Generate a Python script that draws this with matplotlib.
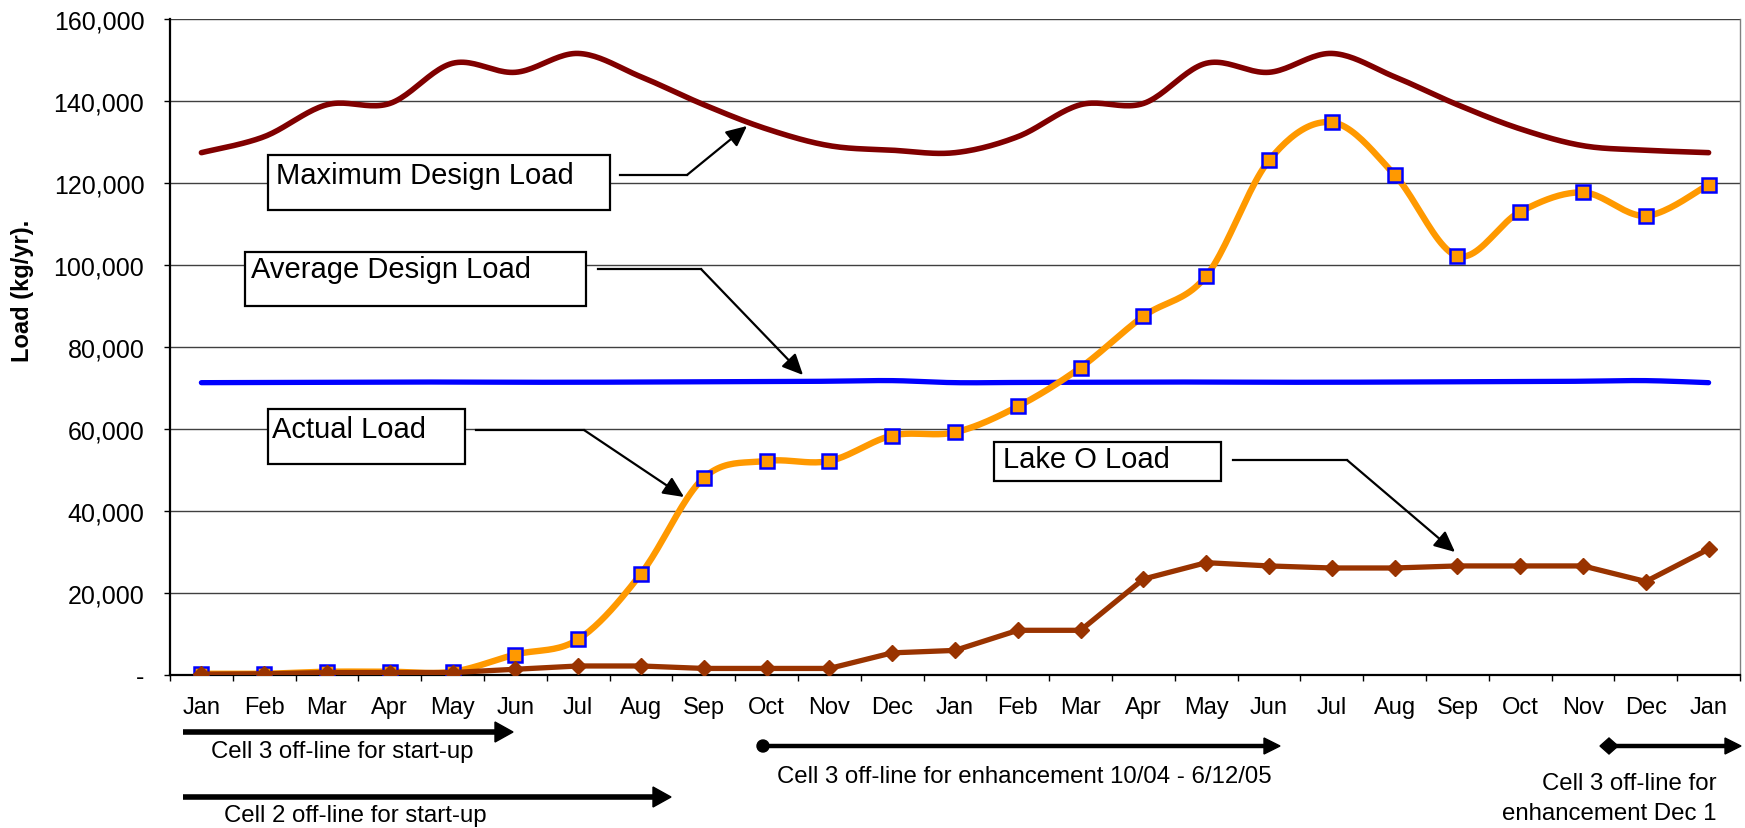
import numpy as np
import matplotlib
matplotlib.use("Agg")
import matplotlib.pyplot as plt
from matplotlib.patches import Rectangle, Polygon, Circle

plt.rcParams['font.family'] = ['Liberation Sans', 'DejaVu Sans']

# ---------------- data ----------------
months = ["Jan", "Feb", "Mar", "Apr", "May", "Jun", "Jul", "Aug", "Sep", "Oct", "Nov", "Dec",
          "Jan", "Feb", "Mar", "Apr", "May", "Jun", "Jul", "Aug", "Sep", "Oct", "Nov", "Dec", "Jan"]

max_design = [127400, 131300, 139100, 139400, 149200, 147000, 151600, 145900, 139100, 133200,
              129100, 128000, 127400, 131300, 139100, 139400, 149200, 147000, 151600, 145900,
              139100, 133200, 129100, 128000, 127400]

avg_design = [71300, 71350, 71400, 71450, 71450, 71400, 71400, 71450, 71500, 71550, 71650, 71800,
              71300, 71350, 71400, 71450, 71450, 71400, 71400, 71450, 71500, 71550, 71650, 71800, 71300]

actual_load = [300, 300, 800, 800, 800, 5000, 8700, 24700, 48100, 52200, 52200, 58400,
               59200, 65500, 75000, 87500, 97300, 125500, 134800, 122000, 102200, 113000,
               117700, 112000, 119600]

lake_o_load = [200, 300, 600, 600, 600, 1400, 2200, 2200, 1600, 1600, 1600, 5400,
               6000, 10900, 10900, 23400, 27400, 26600, 26100, 26100, 26600, 26600, 26600,
               22800, 30700]

y_ticks = [0, 20000, 40000, 60000, 80000, 100000, 120000, 140000, 160000]
y_tick_labels = ["-", "20,000", "40,000", "60,000", "80,000", "100,000", "120,000", "140,000", "160,000"]


def smooth(xs, ys, n=24):
    """Excel-style smoothed line (Catmull-Rom Bezier) for drawing."""
    p = np.column_stack([xs, ys]).astype(float)
    out = []
    m = len(p)
    for i in range(m - 1):
        p0 = p[i - 1] if i > 0 else p[i]
        p1 = p[i]
        p2 = p[i + 1]
        p3 = p[i + 2] if i + 2 < m else p[i + 1]
        c1 = p1 + (p2 - p0) / 6.0
        c2 = p2 - (p3 - p1) / 6.0
        t = np.linspace(0, 1, n)[:, None]
        seg = ((1 - t) ** 3) * p1 + 3 * ((1 - t) ** 2) * t * c1 + 3 * (1 - t) * t ** 2 * c2 + t ** 3 * p2
        out.append(seg if i == 0 else seg[1:])
    s = np.vstack(out)
    return s[:, 0], s[:, 1]


W, H = 1745, 829
fig = plt.figure(figsize=(W / 100, H / 100), dpi=100)
ax = fig.add_axes([170 / W, (H - 676) / H, (1740 - 170) / W, (676 - 20) / H])

x = np.arange(len(months))

sx, sy = smooth(x, max_design)
ax.plot(sx, sy, color="#800000", lw=4.0, solid_capstyle="round", zorder=3)
sx, sy = smooth(x, avg_design)
ax.plot(sx, sy, color="#0000FF", lw=3.8, solid_capstyle="round", zorder=3)
sx, sy = smooth(x, actual_load)
ax.plot(sx, sy, color="#FF9900", lw=4.6, solid_capstyle="round", zorder=4)
ax.plot(x, actual_load, ls="none", marker="s", ms=10.5, mfc="#FF9900", mec="#0000FF", mew=1.8, zorder=5)
ax.plot(x, lake_o_load, color="#993300", lw=3.8, marker="D", ms=8, mfc="#993300", mec="#993300", zorder=6)

ax.set_xlim(-0.5, len(months) - 0.5)
ax.set_ylim(0, 160000)
ax.set_yticks(y_ticks)
ax.set_yticklabels(y_tick_labels, fontsize=18)
ax.set_xticks(x)
ax.set_xticklabels(months, fontsize=17)
ax.set_xticks(np.arange(-0.5, len(months)), minor=True)
ax.tick_params(axis="x", which="major", length=0, pad=15)
ax.tick_params(axis="x", which="minor", length=4.5, width=1, direction="out")
ax.tick_params(axis="y", which="major", length=4.5, width=1, pad=14, direction="out")

ax.grid(axis="y", color="#404040", lw=1)
ax.set_axisbelow(True)
ax.spines["top"].set_visible(False)
ax.spines["right"].set_color("#808080")
ax.spines["right"].set_linewidth(1)
ax.spines["left"].set_linewidth(1.6)
ax.spines["bottom"].set_linewidth(1.6)

fig.text(23 / W, 1 - 291 / H, "Load (kg/yr).", rotation=90, fontsize=17, fontweight="bold",
         ha="center", va="center")

# --------------- annotation overlay (pixel coordinates) ---------------
ov = fig.add_axes([0, 0, 1, 1], zorder=10)
ov.set_xlim(0, W)
ov.set_ylim(H, 0)
ov.axis("off")
ov.patch.set_alpha(0)

boxes = [
    ("Maximum Design Load", (268, 156, 610, 211), (276, 176), (620, 687, 176), (747, 127)),
    ("Average Design Load", (245, 253, 586, 307), (251, 270), (598, 701, 270), (803, 376)),
    ("Actual Load", (268, 410, 465, 465), (272, 430), (476, 584, 431), (684, 498)),
    ("Lake O Load", (994, 443, 1221, 482), (1003, 460), (1233, 1347, 461), (1455, 553)),
]
for label, (x0, y0, x1, y1), (tx, ty), (hx0, hx1, hy), tip in boxes:
    ov.add_patch(Rectangle((x0, y0), x1 - x0, y1 - y0, fc="white", ec="black", lw=1.6))
    ov.text(tx, ty, label, fontsize=21, ha="left", va="center")
    ov.plot([hx0, hx1], [hy, hy], color="black", lw=1.6)
    ov.annotate("", xy=tip, xytext=(hx1, hy),
                arrowprops=dict(arrowstyle="-|>,head_length=0.9,head_width=0.42", color="black",
                                lw=1.6, shrinkA=0, shrinkB=0, mutation_scale=14))


def thick_arrow(xa, xb, y, lw, hl, hw):
    ov.plot([xa, xb - hl + 1], [y, y], color="black", lw=lw, solid_capstyle="butt")
    ov.add_patch(Polygon([(xb - hl, y - hw), (xb, y), (xb - hl, y + hw)], closed=True, fc="black", ec="black"))


thick_arrow(183, 513, 733, 4.0, 18, 10)
thick_arrow(183, 671, 798, 4.0, 18, 10)
thick_arrow(762, 1280, 747, 3.2, 16, 8)
ov.add_patch(Circle((763, 747), 6, fc="black", ec="black"))
thick_arrow(1608, 1741, 747, 3.2, 16, 8)
ov.add_patch(Polygon([(1600, 747), (1609, 739), (1618, 747), (1609, 755)], closed=True, fc="black", ec="black"))

ov.text(342, 752, "Cell 3 off-line for start-up", fontsize=17.3, ha="center", va="center")
ov.text(355, 816, "Cell 2 off-line for start-up", fontsize=17.3, ha="center", va="center")
ov.text(1024, 777, "Cell 3 off-line for enhancement 10/04 - 6/12/05", fontsize=17.3, ha="center", va="center")
ov.text(1717, 784, "Cell 3 off-line for", fontsize=17.3, ha="right", va="center")
ov.text(1717, 814, "enhancement Dec 1", fontsize=17.3, ha="right", va="center")

fig.savefig("out.png", dpi=100, facecolor="white")
